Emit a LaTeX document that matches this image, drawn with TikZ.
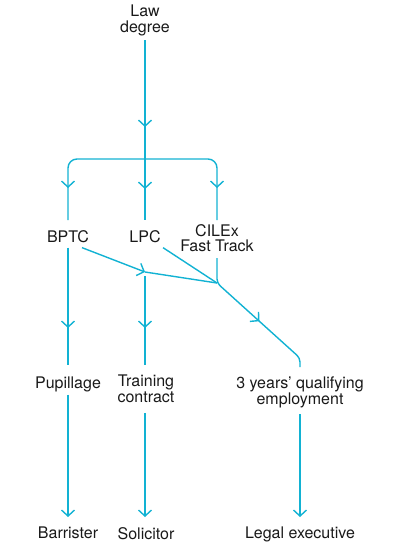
\documentclass[tikz,border=0pt]{standalone}
\usepackage{fontspec}
\setmainfont{TeX Gyre Heros}
\definecolor{routecyan}{RGB}{18, 178, 211}
\definecolor{labeltext}{RGB}{25, 25, 25}
\usetikzlibrary{arrows.meta, positioning, calc, decorations.markings}

\begin{document}
\begin{tikzpicture}[x=1pt, y=-1pt,
      stage/.style={anchor=north, inner sep=0pt, align=center, text=labeltext,
                    font=\fontsize{16}{15.5}\selectfont},
      route/.style={draw, color=routecyan, line width=1.4pt},
      arr/.style={route, -{Straight Barb[length=6pt, width=13pt]}},
      tipat/.style={postaction={decorate, decoration={markings,
                    mark=at position #1 with {\arrow{Straight Barb[length=6pt, width=13pt]}}}}}
    ]
      \useasboundingbox (0,0) rectangle (400,554);

      \node[stage] (law) at (145,5) {Law\\degree};
      \node[stage] (bptc) at (68,230) {BPTC};
      \node[stage] (lpc) at (145,230) {LPC};
      \node[stage] (cilex) at (217,224) {CILEx\\Fast Track};
      \node[stage] (pupil) at (68,377) {Pupillage};
      \node[stage] (training) at (146,375) {Training\\contract};
      \node[stage] (qualify) at (300,377) {3 years’ qualifying\\employment};
      \node[stage] (barrister) at (68,527) {Barrister};
      \node[stage] (solicitor) at (146,527) {Solicitor};
      \node[stage] (legalexec) at (300,527) {Legal executive};

      \coordinate (split) at (145,159);
      \coordinate (lpcjoin) at (145,272);
      \coordinate (merge) at (217,283);
      \coordinate (bend) at (300,358);

      % degree splits three ways
      \draw[route, tipat=87pt, tipat=149pt] ([yshift=-4pt]law.south) -- ([yshift=10pt]lpc.north);
      \draw[route, rounded corners=9pt, tipat=-32pt] (split) -| ([yshift=10pt]bptc.north);
      \draw[route, rounded corners=9pt, tipat=-32pt] (split) -| ([yshift=4pt]cilex.north);

      % vocational stage
      \draw[route, tipat=-37pt] ([yshift=-5pt]bptc.south) -- ([yshift=12pt]pupil.north);
      \draw[arr] ([xshift=14pt, yshift=-5pt]bptc.south) -- (lpcjoin);
      \draw[route] (lpcjoin) -- (merge);
      \draw[route] ([xshift=18pt, yshift=-5pt]lpc.south) -- (merge);
      \draw[route, tipat=-37pt] ([yshift=-4pt]lpcjoin) -- ($(lpcjoin |- training.north)+(0,-10)$);
      \draw[route, rounded corners=4pt, tipat=-63pt] ([yshift=-6pt]cilex.south) -- (merge) -- (bend) -- ([yshift=10pt]qualify.north);

      % qualified
      \draw[arr] ([yshift=-2pt]pupil.south) -- ([yshift=10pt]barrister.north);
      \draw[arr] ([yshift=-10pt]training.south -| lpcjoin) -- ([yshift=10pt]solicitor.north -| lpcjoin);
      \draw[arr] ([yshift=-6pt]qualify.south) -- ([yshift=10pt]legalexec.north);
    \end{tikzpicture}
\end{document}
